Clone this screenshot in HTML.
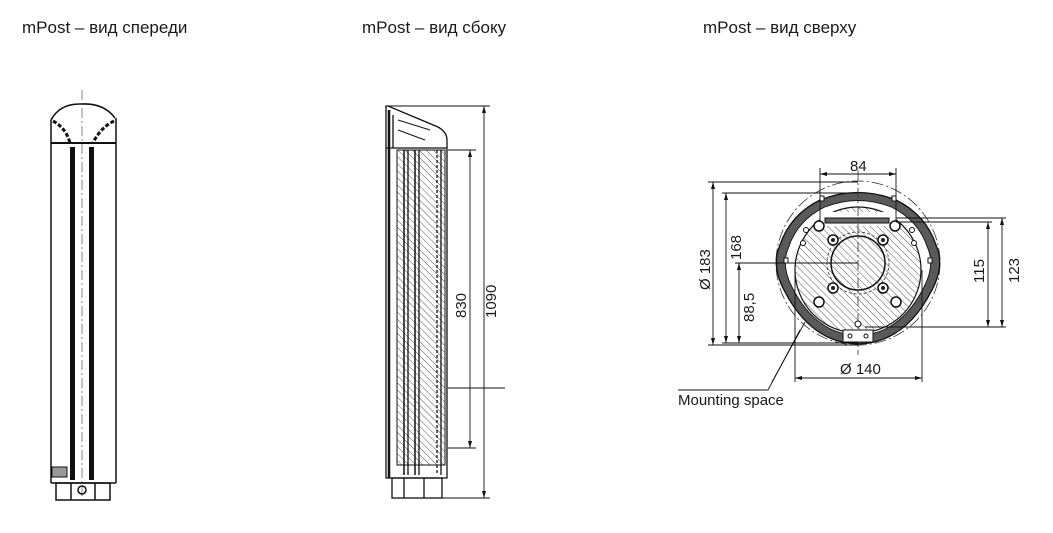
<!DOCTYPE html>
<html><head><meta charset="utf-8"><style>
html,body{margin:0;padding:0;background:#fff;width:1053px;height:533px;overflow:hidden}
svg{display:block}
text{font-family:"Liberation Sans",sans-serif;fill:#1a1a1a}
</style></head><body>
<svg width="1053" height="533" viewBox="0 0 1053 533" xmlns="http://www.w3.org/2000/svg">
<defs>
<pattern id="h" patternUnits="userSpaceOnUse" width="5" height="5" patternTransform="rotate(-45)">
<rect width="5" height="5" fill="#fff"/><line x1="0" y1="0" x2="0" y2="5" stroke="#555" stroke-width="1"/>
</pattern>
<path id="body" d="M780,245 Q790,215 820,200 Q858,185 896,200 Q926,215 936,245 Q945,265 932,290 Q905,343 858,344 Q811,343 784,290 Q771,265 780,245 Z"/>
</defs>
<text x="22" y="33" font-size="17">mPost – вид спереди</text>
<text x="362" y="33" font-size="17">mPost – вид сбоку</text>
<text x="703" y="33" font-size="17">mPost – вид сверху</text>

<!-- FRONT VIEW -->
<g fill="none" stroke="#111" stroke-width="1.5">
<line x1="82" y1="90" x2="82" y2="500" stroke="#666" stroke-width="0.8" stroke-dasharray="10,3,2,3"/>
<path d="M51,120 Q60,103 82,104 Q104,103 115,118"/>
<line x1="51" y1="120" x2="51" y2="483"/>
<line x1="116" y1="118" x2="116" y2="483"/>
<line x1="51" y1="143" x2="116" y2="143" stroke-width="2"/>
<path d="M53,121 Q66,128 70,143 M114,121 Q100,128 93,143" stroke-width="3" stroke-dasharray="4,2"/>
<line x1="51" y1="483" x2="116" y2="483"/>
<rect x="56" y="483" width="54" height="17"/>
<line x1="71" y1="483" x2="71" y2="500"/><line x1="95" y1="483" x2="95" y2="500"/>
<circle cx="82" cy="490" r="4"/>
<rect x="52" y="467" width="15" height="10" fill="#999" stroke-width="1"/>
</g>
<rect x="70" y="147" width="5" height="333" fill="#111"/>
<rect x="89" y="147" width="5" height="333" fill="#111"/>

<!-- SIDE VIEW -->
<g fill="none" stroke="#111" stroke-width="1.3">
<path d="M386,106 L388,106 L438,127 Q447,132 447,140 L447,478 L386,478 Z"/>
<line x1="386" y1="148" x2="447" y2="148"/>
<line x1="393" y1="115" x2="393" y2="148"/>
<path d="M398,120 L430,130 M398,130 L425,140" stroke-width="1"/>
<rect x="397" y="150" width="48" height="315" fill="url(#h)" stroke-width="1"/>
<line x1="404" y1="150" x2="404" y2="475" stroke-width="1.5"/>
<line x1="408" y1="150" x2="408" y2="475"/>
<line x1="415" y1="150" x2="415" y2="475" stroke-width="1.5"/>
<line x1="419" y1="150" x2="419" y2="475"/>
<line x1="437" y1="150" x2="437" y2="475" stroke-dasharray="3,2"/>
<line x1="441" y1="150" x2="441" y2="475"/>
<line x1="389" y1="110" x2="389" y2="478" stroke-width="2.5"/>
<rect x="392" y="478" width="50" height="20"/>
<line x1="404" y1="478" x2="404" y2="498"/><line x1="424" y1="478" x2="424" y2="498"/>
<g stroke-width="0.9">
<line x1="388" y1="106" x2="490" y2="106"/>
<line x1="440" y1="498" x2="490" y2="498"/>
<line x1="448" y1="150" x2="476" y2="150"/>
<line x1="448" y1="448" x2="476" y2="448"/>
<line x1="448" y1="388" x2="505" y2="388"/>
<line x1="470" y1="150" x2="470" y2="448"/>
<line x1="484" y1="106" x2="484" y2="498"/>
</g>
</g>
<g fill="#111">
<path d="M470,150 l-2,7 h4z M470,448 l-2,-7 h4z M484,106 l-2,7 h4z M484,498 l-2,-7 h4z"/>
</g>
<text font-size="15" transform="translate(466,318) rotate(-90)">830</text>
<text font-size="15" transform="translate(496,318) rotate(-90)">1090</text>

<!-- TOP VIEW -->
<g fill="none" stroke="#111" stroke-width="0.9">
<circle cx="858" cy="263" r="82" stroke="#444" stroke-dasharray="12,3,2,3"/>
</g>
<use href="#body" fill="#5a5a5a" stroke="#111" stroke-width="1.3"/>
<use href="#body" fill="#fff" stroke="#111" stroke-width="1" transform="translate(858,266) scale(0.89) translate(-858,-266)"/>
<circle cx="858" cy="270" r="63" fill="url(#h)" stroke="#111" stroke-width="1.2"/>
<rect x="820" y="212" width="76" height="14" fill="#fff"/>
<rect x="825" y="218" width="64" height="5" fill="#666" stroke="#111"/>
<circle cx="858" cy="263" r="27" fill="url(#h)" stroke="#111" stroke-width="1.5"/>
<circle cx="858" cy="263" r="31" fill="none" stroke="#333" stroke-width="0.8" stroke-dasharray="3,2"/>
<line x1="858" y1="170" x2="858" y2="355" stroke="#444" stroke-width="0.9" stroke-dasharray="10,3,2,3"/>
<g fill="#fff" stroke="#111" stroke-width="1.5">
<circle cx="819" cy="226" r="5"/><circle cx="895" cy="226" r="5"/>
<circle cx="833" cy="240" r="5"/><circle cx="883" cy="240" r="5"/>
<circle cx="833" cy="288" r="5"/><circle cx="883" cy="288" r="5"/>
<circle cx="819" cy="302" r="5"/><circle cx="896" cy="302" r="5"/>
</g>
<g fill="#222"><circle cx="833" cy="240" r="2"/><circle cx="883" cy="240" r="2"/><circle cx="833" cy="288" r="2"/><circle cx="883" cy="288" r="2"/></g>
<rect x="843" y="330" width="30" height="12" fill="#fff" stroke="#111"/>
<g fill="#fff" stroke="#111" stroke-width="1">
<circle cx="806" cy="230" r="2.5"/><circle cx="912" cy="230" r="2.5"/>
<circle cx="803" cy="243" r="2.5"/><circle cx="914" cy="243" r="2.5"/>
<rect x="784" y="258" width="4" height="5"/><rect x="928" y="258" width="4" height="5"/>
<rect x="820" y="196" width="4" height="5"/><rect x="892" y="196" width="4" height="5"/>
<circle cx="858" cy="324" r="3"/><circle cx="850" cy="336" r="2"/><circle cx="866" cy="336" r="2"/>
</g>
<g fill="none" stroke="#111" stroke-width="0.9">
<line x1="820" y1="174" x2="896" y2="174"/>
<line x1="820" y1="168" x2="820" y2="222"/><line x1="896" y1="168" x2="896" y2="222"/>
<line x1="708" y1="182" x2="858" y2="182"/><line x1="708" y1="345" x2="858" y2="345"/>
<line x1="722" y1="193" x2="858" y2="193"/><line x1="722" y1="343" x2="858" y2="343"/>
<line x1="735" y1="263" x2="858" y2="263"/>
<line x1="713" y1="182" x2="713" y2="345"/>
<line x1="726" y1="193" x2="726" y2="343"/>
<line x1="739" y1="263" x2="739" y2="343"/>
<line x1="795" y1="270" x2="795" y2="382"/><line x1="922" y1="270" x2="922" y2="382"/>
<line x1="795" y1="378" x2="922" y2="378"/>
<line x1="896" y1="218" x2="1006" y2="218"/><line x1="896" y1="222" x2="992" y2="222"/>
<line x1="865" y1="327" x2="1006" y2="327"/>
<line x1="988" y1="222" x2="988" y2="327"/>
<line x1="1002" y1="218" x2="1002" y2="327"/>
<polyline points="678,390 768,390 800,330"/>
<line x1="772" y1="382" x2="805" y2="322"/>
</g>
<g fill="#111">
<path d="M820,174 l7,-2 v4z M896,174 l-7,-2 v4z M713,182 l-2,7 h4z M713,345 l-2,-7 h4z M726,193 l-2,7 h4z M726,343 l-2,-7 h4z M739,263 l-2,7 h4z M739,343 l-2,-7 h4z M795,378 l7,-2 v4z M922,378 l-7,-2 v4z M988,222 l-2,7 h4z M988,327 l-2,-7 h4z M1002,218 l-2,7 h4z M1002,327 l-2,-7 h4z"/>
</g>
<text x="850" y="171" font-size="15">84</text>
<text font-size="15" transform="translate(710,290) rotate(-90)">Ø 183</text>
<text font-size="15" transform="translate(741,260) rotate(-90)">168</text>
<text font-size="15" transform="translate(754,322) rotate(-90)">88,5</text>
<text x="840" y="374" font-size="15">Ø 140</text>
<text font-size="15" transform="translate(984,283) rotate(-90)">115</text>
<text font-size="15" transform="translate(1019,283) rotate(-90)">123</text>
<text x="678" y="405" font-size="15">Mounting space</text>
</svg>
</body></html>
